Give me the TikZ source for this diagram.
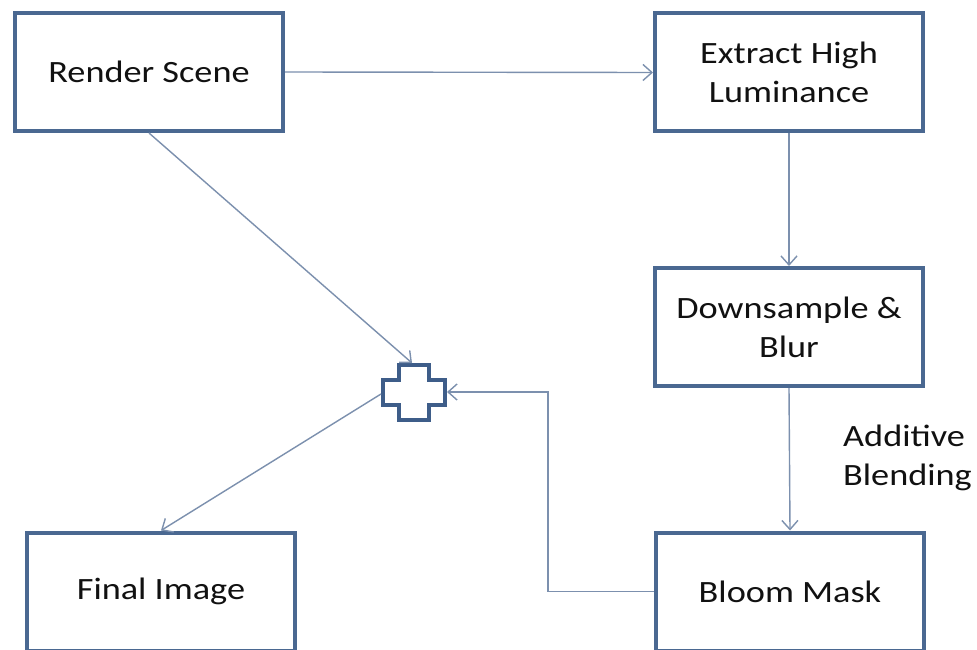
\documentclass[tikz,border=0pt]{standalone}
\usepackage{fontspec}
\setmainfont{Carlito}[FakeStretch=1.17]
\usetikzlibrary{arrows.meta,calc}
\definecolor{boxblue}{HTML}{4A6891}
\definecolor{plusblue}{HTML}{3E5D89}
\definecolor{arrowblue}{HTML}{7C90AE}
\definecolor{txt}{HTML}{111111}
\tikzset{
  box/.style={draw=boxblue, line width=4pt, rectangle, minimum width=268pt, minimum height=118pt,
    align=center, text=txt, font=\fontsize{31}{39}\selectfont, inner sep=0pt},
  conn/.style={draw=arrowblue, line width=1.4pt, -{Straight Barb[length=9pt,width=16pt,line width=1.4pt]}},
}
\begin{document}
\begin{tikzpicture}[x=1pt,y=-1pt]
\useasboundingbox (0,0) rectangle (977,650);
\clip (0,0) rectangle (977,650);
\fill[white] (0,0) rectangle (977,650);
\node[box] (render) at (149,72) {Render Scene};
\node[box] (extract) at (789,72.5) {Extract High\\Luminance};
\node[box] (down) at (789,327) {Downsample \&\\Blur};
\node[box] (bloom) at (790,591.5) {Bloom Mask};
\node[box] (final) at (161,591.5) {Final Image};
% plus shape
\draw[plusblue, line width=4pt, line join=miter]
  (399,365) -- (429,365) -- (429,380) -- (445,380) -- (445,405) -- (429,405) -- (429,420)
  -- (399,420) -- (399,405) -- (383,405) -- (383,380) -- (399,380) -- cycle;
\coordinate (plustop) at (412,363);
\coordinate (plusright) at (447,392);
\coordinate (plusleft) at (381,394);
\coordinate (bend) at (548,392);
\node[anchor=west, align=left, text=txt, font=\fontsize{31}{39}\selectfont, inner sep=0pt] (lbl) at (843,458) {Additive\\Blending};
\draw[conn] (render.east) -- (extract.west);
\draw[conn] (render.south) -- (plustop);
\draw[conn] (extract.south) -- (down.north);
\draw[conn] (down.south) -- (bloom.north);
\draw[conn] (bloom.west) -| (bend) -- (plusright);
\draw[conn] (plusleft) -- (final.north);
\end{tikzpicture}
\end{document}
